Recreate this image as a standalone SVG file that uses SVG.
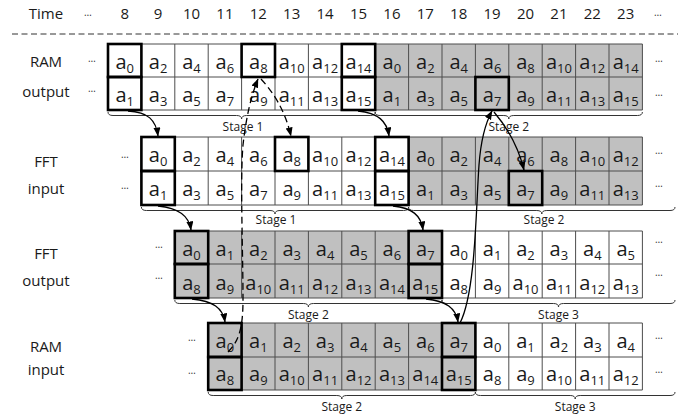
<svg xmlns="http://www.w3.org/2000/svg" width="694" height="418" viewBox="0 0 694 418">
<style>
text{font-family:"Open Sans","Liberation Sans",sans-serif;fill:#1a1a1a}
.t{font-size:15px;text-anchor:middle}
.c{font-size:20px;text-anchor:middle}
.c tspan{font-size:13px}
.d{font-size:10px;text-anchor:middle;fill:#333}
.st{font-size:12px;text-anchor:middle}
.bg{fill:#fff}
.gy{fill:#c0c0c0}
.grid{stroke:#4d4d4d;stroke-width:1;fill:none}
.bold{stroke:#000;stroke-width:2.6;fill:none}
.br{stroke:#333;stroke-width:1;fill:none}
.ar{stroke:#000;stroke-width:1.3;fill:none;marker-end:url(#ah)}
.da{stroke-dasharray:7 4}
</style>
<defs>
<marker id="ah" markerUnits="userSpaceOnUse" markerWidth="9" markerHeight="8" refX="8.5" refY="3.5" orient="auto">
<path d="M0,0 L9,3.5 L0,7 z" fill="#000"/>
</marker>
</defs>

<g id="time-row">
<text class="t" x="46" y="19">Time</text>
<text class="d" x="88" y="16">…</text>
<text class="t" x="124.7" y="19">8</text>
<text class="t" x="158.1" y="19">9</text>
<text class="t" x="191.5" y="19">10</text>
<text class="t" x="224.9" y="19">11</text>
<text class="t" x="258.3" y="19">12</text>
<text class="t" x="291.7" y="19">13</text>
<text class="t" x="325.1" y="19">14</text>
<text class="t" x="358.5" y="19">15</text>
<text class="t" x="391.9" y="19">16</text>
<text class="t" x="425.3" y="19">17</text>
<text class="t" x="458.7" y="19">18</text>
<text class="t" x="492.1" y="19">19</text>
<text class="t" x="525.5" y="19">20</text>
<text class="t" x="558.9" y="19">21</text>
<text class="t" x="592.3" y="19">22</text>
<text class="t" x="625.7" y="19">23</text>
<text class="d" x="658" y="16">…</text>
<line x1="12" y1="34" x2="678" y2="34" stroke="#333" stroke-width="1" stroke-dasharray="6 3.5"/>
</g>

<g id="ram-output">
<text class="t" x="46" y="67">RAM</text>
<text class="t" x="46" y="97">output</text>
<text class="d" x="92" y="62">…</text>
<text class="d" x="92" y="92">…</text>
<text class="d" x="659" y="62">…</text>
<text class="d" x="659" y="96">…</text>
<rect class="bg" x="108" y="44" width="534.4" height="66"/>
<rect class="gy" x="375.2" y="44" width="267.2" height="66"/>
<path class="grid" d="M108,44H642.4M108,77H642.4M108,110H642.4M108,44V110M141.4,44V110M174.8,44V110M208.2,44V110M241.6,44V110M275,44V110M308.4,44V110M341.8,44V110M375.2,44V110M408.6,44V110M442,44V110M475.4,44V110M508.8,44V110M542.2,44V110M575.6,44V110M609,44V110M642.4,44V110"/>
<rect class="bold" x="108" y="44" width="33.4" height="33"/>
<rect class="bold" x="108" y="77" width="33.4" height="33"/>
<rect class="bold" x="241.6" y="44" width="33.4" height="33"/>
<rect class="bold" x="341.8" y="44" width="33.4" height="33"/>
<rect class="bold" x="341.8" y="77" width="33.4" height="33"/>
<rect class="bold" x="475.4" y="77" width="33.4" height="33"/>
<text class="c" x="124.7" y="69">a<tspan dy="4">0</tspan></text>
<text class="c" x="158.1" y="69">a<tspan dy="4">2</tspan></text>
<text class="c" x="191.5" y="69">a<tspan dy="4">4</tspan></text>
<text class="c" x="224.9" y="69">a<tspan dy="4">6</tspan></text>
<text class="c" x="258.3" y="69">a<tspan dy="4">8</tspan></text>
<text class="c" x="291.7" y="69">a<tspan dy="4">10</tspan></text>
<text class="c" x="325.1" y="69">a<tspan dy="4">12</tspan></text>
<text class="c" x="358.5" y="69">a<tspan dy="4">14</tspan></text>
<text class="c" x="391.9" y="69">a<tspan dy="4">0</tspan></text>
<text class="c" x="425.3" y="69">a<tspan dy="4">2</tspan></text>
<text class="c" x="458.7" y="69">a<tspan dy="4">4</tspan></text>
<text class="c" x="492.1" y="69">a<tspan dy="4">6</tspan></text>
<text class="c" x="525.5" y="69">a<tspan dy="4">8</tspan></text>
<text class="c" x="558.9" y="69">a<tspan dy="4">10</tspan></text>
<text class="c" x="592.3" y="69">a<tspan dy="4">12</tspan></text>
<text class="c" x="625.7" y="69">a<tspan dy="4">14</tspan></text>
<text class="c" x="124.7" y="102">a<tspan dy="4">1</tspan></text>
<text class="c" x="158.1" y="102">a<tspan dy="4">3</tspan></text>
<text class="c" x="191.5" y="102">a<tspan dy="4">5</tspan></text>
<text class="c" x="224.9" y="102">a<tspan dy="4">7</tspan></text>
<text class="c" x="258.3" y="102">a<tspan dy="4">9</tspan></text>
<text class="c" x="291.7" y="102">a<tspan dy="4">11</tspan></text>
<text class="c" x="325.1" y="102">a<tspan dy="4">13</tspan></text>
<text class="c" x="358.5" y="102">a<tspan dy="4">15</tspan></text>
<text class="c" x="391.9" y="102">a<tspan dy="4">1</tspan></text>
<text class="c" x="425.3" y="102">a<tspan dy="4">3</tspan></text>
<text class="c" x="458.7" y="102">a<tspan dy="4">5</tspan></text>
<text class="c" x="492.1" y="102">a<tspan dy="4">7</tspan></text>
<text class="c" x="525.5" y="102">a<tspan dy="4">9</tspan></text>
<text class="c" x="558.9" y="102">a<tspan dy="4">11</tspan></text>
<text class="c" x="592.3" y="102">a<tspan dy="4">13</tspan></text>
<text class="c" x="625.7" y="102">a<tspan dy="4">15</tspan></text>
<path class="br" d="M108,112 Q108,115.5 113,115.5 L236.6,115.5 Q241.6,115.5 241.6,119 Q241.6,115.5 246.6,115.5 L370.2,115.5 Q375.2,115.5 375.2,112"/>
<path class="br" d="M375.2,112 Q375.2,115.5 380.2,115.5 L503.8,115.5 Q508.8,115.5 508.8,119 Q508.8,115.5 513.8,115.5 L637.4,115.5 Q642.4,115.5 642.4,112"/>
<text class="st" x="243" y="131">Stage 1</text>
<text class="st" x="508.8" y="131">Stage 2</text>
</g>

<g id="fft-input">
<text class="t" x="46" y="167">FFT</text>
<text class="t" x="46" y="194">input</text>
<text class="d" x="125" y="158">…</text>
<text class="d" x="125" y="189">…</text>
<text class="d" x="659" y="154">…</text>
<text class="d" x="659" y="187">…</text>
<rect class="bg" x="141.4" y="137" width="501" height="68"/>
<rect class="gy" x="408.6" y="137" width="233.8" height="68"/>
<path class="grid" d="M141.4,137H642.4M141.4,171H642.4M141.4,205H642.4M141.4,137V205M174.8,137V205M208.2,137V205M241.6,137V205M275,137V205M308.4,137V205M341.8,137V205M375.2,137V205M408.6,137V205M442,137V205M475.4,137V205M508.8,137V205M542.2,137V205M575.6,137V205M609,137V205M642.4,137V205"/>
<rect class="bold" x="141.4" y="137" width="33.4" height="34"/>
<rect class="bold" x="141.4" y="171" width="33.4" height="34"/>
<rect class="bold" x="275" y="137" width="33.4" height="34"/>
<rect class="bold" x="375.2" y="137" width="33.4" height="34"/>
<rect class="bold" x="375.2" y="171" width="33.4" height="34"/>
<rect class="bold" x="508.8" y="171" width="33.4" height="34"/>
<text class="c" x="158.1" y="162">a<tspan dy="4">0</tspan></text>
<text class="c" x="191.5" y="162">a<tspan dy="4">2</tspan></text>
<text class="c" x="224.9" y="162">a<tspan dy="4">4</tspan></text>
<text class="c" x="258.3" y="162">a<tspan dy="4">6</tspan></text>
<text class="c" x="291.7" y="162">a<tspan dy="4">8</tspan></text>
<text class="c" x="325.1" y="162">a<tspan dy="4">10</tspan></text>
<text class="c" x="358.5" y="162">a<tspan dy="4">12</tspan></text>
<text class="c" x="391.9" y="162">a<tspan dy="4">14</tspan></text>
<text class="c" x="425.3" y="162">a<tspan dy="4">0</tspan></text>
<text class="c" x="458.7" y="162">a<tspan dy="4">2</tspan></text>
<text class="c" x="492.1" y="162">a<tspan dy="4">4</tspan></text>
<text class="c" x="525.5" y="162">a<tspan dy="4">6</tspan></text>
<text class="c" x="558.9" y="162">a<tspan dy="4">8</tspan></text>
<text class="c" x="592.3" y="162">a<tspan dy="4">10</tspan></text>
<text class="c" x="625.7" y="162">a<tspan dy="4">12</tspan></text>
<text class="c" x="158.1" y="196">a<tspan dy="4">1</tspan></text>
<text class="c" x="191.5" y="196">a<tspan dy="4">3</tspan></text>
<text class="c" x="224.9" y="196">a<tspan dy="4">5</tspan></text>
<text class="c" x="258.3" y="196">a<tspan dy="4">7</tspan></text>
<text class="c" x="291.7" y="196">a<tspan dy="4">9</tspan></text>
<text class="c" x="325.1" y="196">a<tspan dy="4">11</tspan></text>
<text class="c" x="358.5" y="196">a<tspan dy="4">13</tspan></text>
<text class="c" x="391.9" y="196">a<tspan dy="4">15</tspan></text>
<text class="c" x="425.3" y="196">a<tspan dy="4">1</tspan></text>
<text class="c" x="458.7" y="196">a<tspan dy="4">3</tspan></text>
<text class="c" x="492.1" y="196">a<tspan dy="4">5</tspan></text>
<text class="c" x="525.5" y="196">a<tspan dy="4">7</tspan></text>
<text class="c" x="558.9" y="196">a<tspan dy="4">9</tspan></text>
<text class="c" x="592.3" y="196">a<tspan dy="4">11</tspan></text>
<text class="c" x="625.7" y="196">a<tspan dy="4">13</tspan></text>
<path class="br" d="M141.4,207 Q141.4,210.5 146.4,210.5 L270,210.5 Q275,210.5 275,214 Q275,210.5 280,210.5 L403.6,210.5 Q408.6,210.5 408.6,207"/>
<path class="br" d="M408.6,207 Q408.6,210.5 413.6,210.5 L536.8,210.5 Q541.8,210.5 541.8,214 Q541.8,210.5 546.8,210.5 L670,210.5 Q675,210.5 675,207"/>
<text class="st" x="276" y="224">Stage 1</text>
<text class="st" x="544" y="224">Stage 2</text>
</g>

<g id="fft-output">
<text class="t" x="46" y="259">FFT</text>
<text class="t" x="46" y="286">output</text>
<text class="d" x="159" y="248">…</text>
<text class="d" x="159" y="279">…</text>
<text class="d" x="659" y="243">…</text>
<text class="d" x="659" y="276">…</text>
<rect class="bg" x="174.8" y="231" width="467.6" height="67"/>
<rect class="gy" x="174.8" y="231" width="267.2" height="67"/>
<path class="grid" d="M174.8,231H642.4M174.8,264H642.4M174.8,298H642.4M174.8,231V298M208.2,231V298M241.6,231V298M275,231V298M308.4,231V298M341.8,231V298M375.2,231V298M408.6,231V298M442,231V298M475.4,231V298M508.8,231V298M542.2,231V298M575.6,231V298M609,231V298M642.4,231V298"/>
<rect class="bold" x="174.8" y="231" width="33.4" height="33"/>
<rect class="bold" x="174.8" y="264" width="33.4" height="34"/>
<rect class="bold" x="408.6" y="231" width="33.4" height="33"/>
<rect class="bold" x="408.6" y="264" width="33.4" height="34"/>
<text class="c" x="191.5" y="256">a<tspan dy="4">0</tspan></text>
<text class="c" x="224.9" y="256">a<tspan dy="4">1</tspan></text>
<text class="c" x="258.3" y="256">a<tspan dy="4">2</tspan></text>
<text class="c" x="291.7" y="256">a<tspan dy="4">3</tspan></text>
<text class="c" x="325.1" y="256">a<tspan dy="4">4</tspan></text>
<text class="c" x="358.5" y="256">a<tspan dy="4">5</tspan></text>
<text class="c" x="391.9" y="256">a<tspan dy="4">6</tspan></text>
<text class="c" x="425.3" y="256">a<tspan dy="4">7</tspan></text>
<text class="c" x="458.7" y="256">a<tspan dy="4">0</tspan></text>
<text class="c" x="492.1" y="256">a<tspan dy="4">1</tspan></text>
<text class="c" x="525.5" y="256">a<tspan dy="4">2</tspan></text>
<text class="c" x="558.9" y="256">a<tspan dy="4">3</tspan></text>
<text class="c" x="592.3" y="256">a<tspan dy="4">4</tspan></text>
<text class="c" x="625.7" y="256">a<tspan dy="4">5</tspan></text>
<text class="c" x="191.5" y="290">a<tspan dy="4">8</tspan></text>
<text class="c" x="224.9" y="290">a<tspan dy="4">9</tspan></text>
<text class="c" x="258.3" y="290">a<tspan dy="4">10</tspan></text>
<text class="c" x="291.7" y="290">a<tspan dy="4">11</tspan></text>
<text class="c" x="325.1" y="290">a<tspan dy="4">12</tspan></text>
<text class="c" x="358.5" y="290">a<tspan dy="4">13</tspan></text>
<text class="c" x="391.9" y="290">a<tspan dy="4">14</tspan></text>
<text class="c" x="425.3" y="290">a<tspan dy="4">15</tspan></text>
<text class="c" x="458.7" y="290">a<tspan dy="4">8</tspan></text>
<text class="c" x="492.1" y="290">a<tspan dy="4">9</tspan></text>
<text class="c" x="525.5" y="290">a<tspan dy="4">10</tspan></text>
<text class="c" x="558.9" y="290">a<tspan dy="4">11</tspan></text>
<text class="c" x="592.3" y="290">a<tspan dy="4">12</tspan></text>
<text class="c" x="625.7" y="290">a<tspan dy="4">13</tspan></text>
<path class="br" d="M174.8,300 Q174.8,303.5 179.8,303.5 L303.4,303.5 Q308.4,303.5 308.4,307 Q308.4,303.5 313.4,303.5 L437,303.5 Q442,303.5 442,300"/>
<path class="br" d="M442,300 Q442,303.5 447,303.5 L553.5,303.5 Q558.5,303.5 558.5,307 Q558.5,303.5 563.5,303.5 L670,303.5 Q675,303.5 675,300"/>
<text class="st" x="308.4" y="318.5">Stage 2</text>
<text class="st" x="558.5" y="318.5">Stage 3</text>
</g>

<g id="ram-input">
<text class="t" x="46" y="352">RAM</text>
<text class="t" x="46" y="375">input</text>
<text class="d" x="192" y="341">…</text>
<text class="d" x="192" y="374">…</text>
<text class="d" x="659" y="339">…</text>
<text class="d" x="659" y="373">…</text>
<rect class="bg" x="208.2" y="323" width="434.2" height="67"/>
<rect class="gy" x="208.2" y="323" width="267.2" height="67"/>
<path class="grid" d="M208.2,323H642.4M208.2,357H642.4M208.2,390H642.4M208.2,323V390M241.6,323V390M275,323V390M308.4,323V390M341.8,323V390M375.2,323V390M408.6,323V390M442,323V390M475.4,323V390M508.8,323V390M542.2,323V390M575.6,323V390M609,323V390M642.4,323V390"/>
<rect class="bold" x="208.2" y="323" width="33.4" height="34"/>
<rect class="bold" x="208.2" y="357" width="33.4" height="33"/>
<rect class="bold" x="442" y="323" width="33.4" height="34"/>
<rect class="bold" x="442" y="357" width="33.4" height="33"/>
<text class="c" x="224.9" y="348">a<tspan dy="4">0</tspan></text>
<text class="c" x="258.3" y="348">a<tspan dy="4">1</tspan></text>
<text class="c" x="291.7" y="348">a<tspan dy="4">2</tspan></text>
<text class="c" x="325.1" y="348">a<tspan dy="4">3</tspan></text>
<text class="c" x="358.5" y="348">a<tspan dy="4">4</tspan></text>
<text class="c" x="391.9" y="348">a<tspan dy="4">5</tspan></text>
<text class="c" x="425.3" y="348">a<tspan dy="4">6</tspan></text>
<text class="c" x="458.7" y="348">a<tspan dy="4">7</tspan></text>
<text class="c" x="492.1" y="348">a<tspan dy="4">0</tspan></text>
<text class="c" x="525.5" y="348">a<tspan dy="4">1</tspan></text>
<text class="c" x="558.9" y="348">a<tspan dy="4">2</tspan></text>
<text class="c" x="592.3" y="348">a<tspan dy="4">3</tspan></text>
<text class="c" x="625.7" y="348">a<tspan dy="4">4</tspan></text>
<text class="c" x="224.9" y="381">a<tspan dy="4">8</tspan></text>
<text class="c" x="258.3" y="381">a<tspan dy="4">9</tspan></text>
<text class="c" x="291.7" y="381">a<tspan dy="4">10</tspan></text>
<text class="c" x="325.1" y="381">a<tspan dy="4">11</tspan></text>
<text class="c" x="358.5" y="381">a<tspan dy="4">12</tspan></text>
<text class="c" x="391.9" y="381">a<tspan dy="4">13</tspan></text>
<text class="c" x="425.3" y="381">a<tspan dy="4">14</tspan></text>
<text class="c" x="458.7" y="381">a<tspan dy="4">15</tspan></text>
<text class="c" x="492.1" y="381">a<tspan dy="4">8</tspan></text>
<text class="c" x="525.5" y="381">a<tspan dy="4">9</tspan></text>
<text class="c" x="558.9" y="381">a<tspan dy="4">10</tspan></text>
<text class="c" x="592.3" y="381">a<tspan dy="4">11</tspan></text>
<text class="c" x="625.7" y="381">a<tspan dy="4">12</tspan></text>
<path class="br" d="M208.2,392 Q208.2,395.5 213.2,395.5 L336.8,395.5 Q341.8,395.5 341.8,399 Q341.8,395.5 346.8,395.5 L470.4,395.5 Q475.4,395.5 475.4,392"/>
<path class="br" d="M475.4,392 Q475.4,395.5 480.4,395.5 L570.2,395.5 Q575.2,395.5 575.2,399 Q575.2,395.5 580.2,395.5 L670,395.5 Q675,395.5 675,392"/>
<text class="st" x="341.8" y="410.5">Stage 2</text>
<text class="st" x="575.2" y="410.5">Stage 3</text>
</g>

<g id="connectors">
<path class="ar" d="M128,111 C148,112 156,120 158,136"/>
<path class="ar" d="M358,111 C378,113 387,121 389,136"/>
<path class="ar" d="M158,206 C178,208 189,215 191,230"/>
<path class="ar" d="M393,206 C412,208 421,215 423,230"/>
<path class="ar" d="M192,299 C213,301 223,308 225,322"/>
<path class="ar" d="M426,299 C446,301 456,308 458,322"/>
<path class="ar" d="M460,323 C476,292 476,205 479,165 C481,138 486,122 492,111"/>
<path class="ar" d="M494,112 C506,126 518,146 524,170"/>
<path class="ar da" d="M228,352 C238,342 243,330 243,300 C243,250 240,180 243,145 C246,118 251,96 258,79"/>
<path class="ar da" d="M261,79 C273,92 285,110 291,136"/>
</g>
</svg>
